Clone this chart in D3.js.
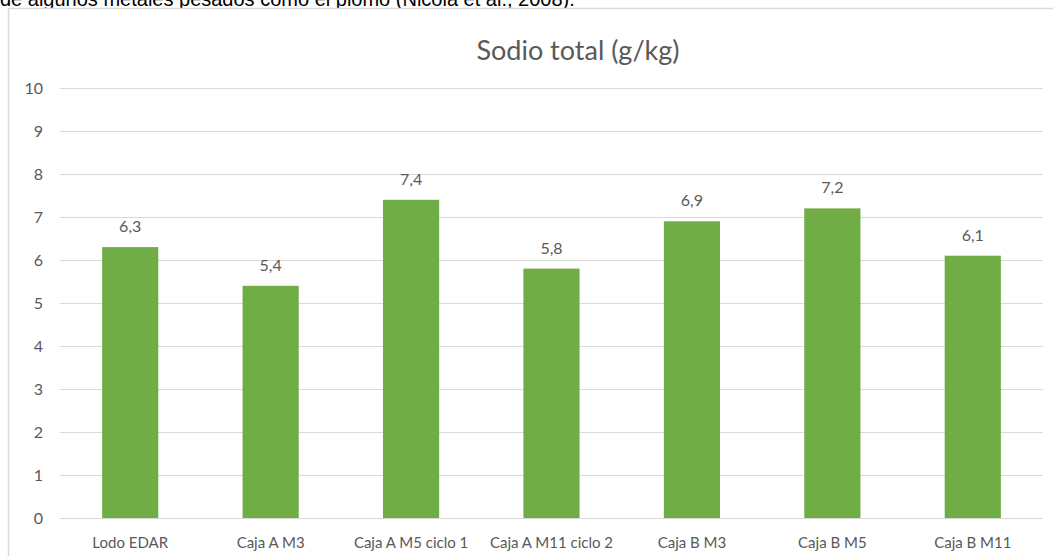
<!DOCTYPE html>
<html>
<head>
<meta charset="utf-8">
<script src="https://cdn.jsdelivr.net/npm/d3@7"></script>
<style>
  html, body { margin: 0; padding: 0; background: #fff; overflow: hidden; }
  svg { display: block; }
</style>
</head>
<body>
<div id="chart"></div>
<script>
// Chart data
const categories = ['Lodo EDAR', 'Caja A M3', 'Caja A M5 ciclo 1', 'Caja A M11 ciclo 2', 'Caja B M3', 'Caja B M5', 'Caja B M11'];
const values = [6.3, 5.4, 7.4, 5.8, 6.9, 7.2, 6.1];
const yTicks = [0, 1, 2, 3, 4, 5, 6, 7, 8, 9, 10];
const chartTitle = 'Sodio total (g/kg)';
const pageText = 'de algunos metales pesados como el plomo (Nicola et al., 2008).';

// Page and plot dimensions
const width = 1053;
const height = 556;
const plot = { left: 60, right: 1043, top: 88, bottom: 518 };

const textColor = '#595959';
const gridColor = '#d9d9d9';
const barColor = '#70ad47';
const font = 'Lato, "Open Sans", sans-serif';

const svg = d3.select('#chart')
    .append('svg')
    .attr('width', width)
    .attr('height', height);

// Text of the document above the chart (cut off at the top, as in the page)
svg.append('text')
    .attr('x', 0)
    .attr('y', 6)
    .attr('font-family', '"Liberation Sans", Arial, sans-serif')
    .attr('font-size', 20)
    .attr('fill', '#000')
    .text(pageText);

// Chart frame
svg.append('rect')
    .attr('x', 8.5)
    .attr('y', 8.5)
    .attr('width', 1100)
    .attr('height', 600)
    .attr('fill', '#fff')
    .attr('stroke', gridColor)
    .attr('stroke-width', 1.5);

// Scales
const xScale = d3.scaleBand()
    .domain(categories)
    .range([plot.left, plot.right])
    .paddingInner(0.6)
    .paddingOuter(0.3);

const yScale = d3.scaleLinear()
    .domain([0, 10])
    .range([plot.bottom, plot.top]);

// Gridlines + y labels
const yAxis = d3.axisLeft(yScale)
    .tickValues(yTicks)
    .tickSize(-(plot.right - plot.left))
    .tickPadding(17)
    .tickFormat(d3.format('d'));

const yG = svg.append('g')
    .attr('transform', `translate(${plot.left},0)`)
    .call(yAxis);

yG.select('.domain').remove();
yG.selectAll('.tick line')
    .attr('stroke', gridColor)
    .attr('stroke-width', 1);
yG.selectAll('.tick text')
    .attr('fill', textColor)
    .attr('font-family', font)
    .attr('font-size', 16);

// Bars
svg.selectAll('.bar')
    .data(values)
    .enter()
    .append('rect')
    .attr('class', 'bar')
    .attr('x', (d, i) => xScale(categories[i]))
    .attr('y', d => yScale(d))
    .attr('width', xScale.bandwidth())
    .attr('height', d => yScale(0) - yScale(d))
    .attr('fill', barColor);

// Value labels (decimal comma)
const fmt = v => d3.format('.1f')(v).replace('.', ',');
svg.selectAll('.value')
    .data(values)
    .enter()
    .append('text')
    .attr('class', 'value')
    .attr('x', (d, i) => xScale(categories[i]) + xScale.bandwidth() / 2)
    .attr('y', d => yScale(d) - 15)
    .attr('text-anchor', 'middle')
    .attr('fill', textColor)
    .attr('font-family', font)
    .attr('font-size', 16)
    .text(fmt);

// Category labels under the zero line
const xAxis = d3.axisBottom(xScale).tickSize(0).tickPadding(19);
const xG = svg.append('g')
    .attr('transform', `translate(0,${plot.bottom})`)
    .call(xAxis);
xG.select('.domain').remove();
xG.selectAll('.tick text')
    .attr('fill', textColor)
    .attr('font-family', font)
    .attr('font-size', 15);

// Title
svg.append('text')
    .attr('x', 578)
    .attr('y', 60)
    .attr('text-anchor', 'middle')
    .attr('fill', textColor)
    .attr('font-family', font)
    .attr('font-size', 27)
    .text(chartTitle);
</script>
</body>
</html>
